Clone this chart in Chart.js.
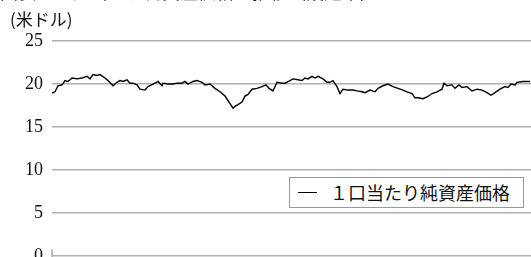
<!DOCTYPE html>
<html>
<head>
<meta charset="utf-8">
<script src="https://cdn.jsdelivr.net/npm/chart.js@4"></script>
<style>
  html, body { margin: 0; padding: 0; background: #fff; }
  #wrap { position: relative; width: 531px; height: 257px; overflow: hidden; }
  #c { position: absolute; left: 0; top: 0; }
  #title { position: absolute; left: 0; top: -22px; font: 18px "Noto Sans CJK JP"; white-space: nowrap; color: #111; }
  #unit { position: absolute; left: 10px; top: 6px; font: 17px "Noto Sans CJK JP"; color: #111; }
  #legend { position: absolute; left: 289px; top: 177px; width: 233px; height: 29px; border: 1px solid #9a9a9a; background: #fff; }
  #legend .sw { position: absolute; left: 8px; top: 14px; width: 19px; height: 0; border-top: 1.5px solid #000; }
  #legend .tx { position: absolute; left: 40px; top: 2px; font: 18px "Noto Sans CJK JP"; line-height: 24px; color: #111; white-space: nowrap; }
</style>
</head>
<body>
<div id="wrap">
  <canvas id="c" width="531" height="276"></canvas>
  <div id="title">図表　１口当たり純資産価格の推移（設定来）</div>
  <div id="unit">(米ドル)</div>
  <div id="legend"><div class="sw"></div><div class="tx" id="legendText"></div></div>
</div>
<script>
// trading-day index and NAV per unit (USD)
const days = [0, 3, 6, 10, 13, 16, 20, 25, 30, 35, 38, 41, 45, 48, 53, 56, 61, 65, 68, 71, 75, 78, 81, 85, 88, 93, 96, 101, 106, 110, 111, 116, 121, 125, 130, 133, 136, 141, 145, 150, 153, 158, 163, 168, 173, 177, 181, 183, 186, 190, 193, 196, 200, 205, 210, 214, 217, 221, 225, 230, 233, 238, 241, 246, 250, 253, 256, 260, 263, 266, 271, 275, 278, 281, 285, 288, 291, 296, 301, 305, 310, 313, 318, 323, 326, 331, 336, 341, 346, 351, 355, 360, 363, 366, 371, 375, 380, 385, 390, 392, 395, 400, 403, 407, 410, 415, 420, 425, 430, 435, 439, 443, 448, 453, 456, 459, 463, 465, 471, 478];
const nav = [18.95, 19.1, 19.8, 19.9, 20.4, 20.3, 20.7, 20.6, 20.7, 20.9, 20.6, 21.1, 21.0, 21.1, 20.7, 20.4, 19.8, 20.2, 20.4, 20.3, 20.5, 20.1, 20.1, 19.9, 19.4, 19.3, 19.7, 20.0, 20.3, 19.8, 20.1, 20.0, 20.0, 20.1, 20.1, 20.3, 20.0, 20.3, 20.4, 20.2, 19.9, 20.0, 19.5, 19.1, 18.6, 17.9, 17.2, 17.4, 17.6, 17.9, 18.6, 18.8, 19.4, 19.5, 19.7, 19.9, 19.5, 19.2, 20.2, 20.1, 20.1, 20.4, 20.6, 20.5, 20.4, 20.7, 20.6, 20.9, 20.7, 20.9, 20.6, 20.2, 20.2, 20.4, 19.7, 18.9, 19.4, 19.3, 19.3, 19.2, 19.1, 19.0, 19.3, 19.1, 19.5, 19.8, 20.0, 19.7, 19.5, 19.3, 19.1, 18.9, 18.4, 18.4, 18.3, 18.5, 18.9, 19.1, 19.4, 20.1, 19.8, 19.9, 19.5, 19.9, 19.6, 19.7, 19.2, 19.4, 19.3, 19.0, 18.7, 19.0, 19.4, 19.7, 19.6, 20.0, 19.9, 20.2, 20.3, 20.3];
const yTicks = [0, 5, 10, 15, 20, 25];
const seriesLabel = '１口当たり純資産価格';

document.getElementById('legendText').textContent = seriesLabel;

// short tick at the left end of the category axis
const axisTick = {
  id: 'axisTick',
  afterDraw(chart) {
    const { ctx, chartArea } = chart;
    ctx.save();
    ctx.strokeStyle = '#a8a8a8';
    ctx.lineWidth = 1.5;
    ctx.beginPath();
    ctx.moveTo(chartArea.left, chartArea.bottom - 7);
    ctx.lineTo(chartArea.left, chartArea.bottom + 2);
    ctx.stroke();
    ctx.restore();
  }
};

new Chart(document.getElementById('c'), {
  type: 'line',
  data: {
    datasets: [{
      label: seriesLabel,
      data: days.map((d, i) => ({ x: d, y: nav[i] })),
      borderColor: '#000',
      borderWidth: 1.4,
      pointRadius: 0,
      tension: 0,
      fill: false
    }]
  },
  options: {
    responsive: false,
    animation: false,
    layout: { padding: { top: 41, right: 0, bottom: 0, left: 0 } },
    plugins: { legend: { display: false }, tooltip: { enabled: false } },
    scales: {
      x: {
        type: 'linear', min: 0, max: 479, display: false
      },
      y: {
        min: 0, max: 25,
        afterFit(scale) { scale.width = 52; },
        afterBuildTicks(scale) { scale.ticks = yTicks.map(v => ({ value: v })); },
        border: { display: false },
        grid: { color: '#b0b0b0', lineWidth: 1.5, drawTicks: false },
        ticks: {
          padding: 9,
          color: '#111',
          font: { family: '"Liberation Serif", serif', size: 18 }
        }
      }
    }
  },
  plugins: [axisTick]
});
</script>
</body>
</html>
